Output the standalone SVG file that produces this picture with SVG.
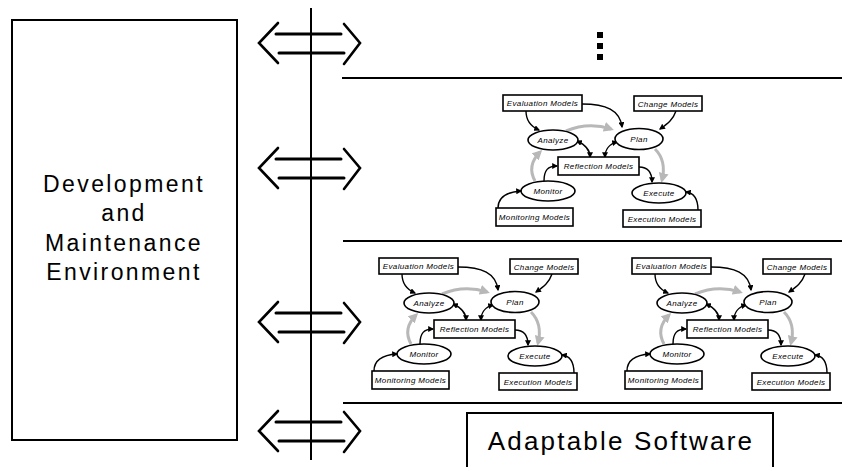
<svg xmlns="http://www.w3.org/2000/svg" xmlns:xlink="http://www.w3.org/1999/xlink" width="842" height="467" viewBox="0 0 842 467">
  <style>
    .frame { fill: #fff; stroke: #000; stroke-width: 2; }
    .sep { stroke: #000; stroke-width: 2; fill: none; }
    .box { fill: #fff; stroke: #000; stroke-width: 1.6; }
    .oval { fill: #fff; stroke: #000; stroke-width: 1.6; }
    .lbl { font-family: "Liberation Sans", "DejaVu Sans", sans-serif; font-style: italic; font-size: 8px; letter-spacing: 0.35px; text-anchor: middle; fill: #000; }
    .big { font-family: "Liberation Sans", "DejaVu Sans", sans-serif; font-size: 23px; letter-spacing: 2.4px; text-anchor: middle; fill: #000; }
    .flow { fill: none; stroke: #000; stroke-width: 1.4; marker-end: url(#headBlack); }
    .flow2 { fill: none; stroke: #000; stroke-width: 1.4; marker-start: url(#headBlack); marker-end: url(#headBlack); }
    .loop { fill: none; stroke: #b8b8b8; stroke-width: 3; marker-end: url(#headGray); }
    .dbl { fill: none; stroke: #000; stroke-linecap: round; }
  </style>
  <defs>
    <marker id="headBlack" viewBox="0 0 10 10" refX="8" refY="5" markerWidth="6" markerHeight="6" markerUnits="userSpaceOnUse" orient="auto-start-reverse">
      <path d="M0,0 L10,5 L0,10 Z" fill="#000"/>
    </marker>
    <marker id="headGray" viewBox="0 0 10 10" refX="7" refY="5" markerWidth="10" markerHeight="10" markerUnits="userSpaceOnUse" orient="auto">
      <path d="M0,0 L10,5 L0,10 Z" fill="#b8b8b8"/>
    </marker>
    <!-- double-headed link between the environment and a layer -->
    <g id="dblarrow" class="dbl">
      <path d="M278,-20 L259,0 L278,20" stroke-width="2.6"/>
      <path d="M344,-19 L360,0 L344,21" stroke-width="2.6"/>
      <path d="M276,-9 L341,-9" stroke-width="3"/>
      <path d="M279,10 L344,10" stroke-width="3"/>
    </g>
  </defs>

  <rect width="842" height="467" fill="#fff"/>

  <!-- environment block -->
  <g id="environment">
    <rect class="frame" x="12" y="20" width="225" height="420"/>
    <text class="big" x="124" y="192">Development</text>
    <text class="big" x="124" y="221">and</text>
    <text class="big" x="124" y="251">Maintenance</text>
    <text class="big" x="124" y="280">Environment</text>
  </g>

  <!-- layer separators -->
  <g id="layers">
    <path class="sep" d="M311,8 L311,460"/>
    <path class="sep" d="M342,78 L842,78"/>
    <path class="sep" d="M343,241 L842,241"/>
    <path class="sep" d="M343,403 L842,403"/>
  </g>

  <!-- links from the environment to each layer -->
  <g id="links">
    <use xlink:href="#dblarrow" transform="translate(0,43)"/>
    <use xlink:href="#dblarrow" transform="translate(0,168)"/>
    <use xlink:href="#dblarrow" transform="translate(0,322)"/>
    <use xlink:href="#dblarrow" transform="translate(0,431)"/>
  </g>

  <!-- more layers -->
  <g id="ellipsis" fill="#000">
    <rect x="597" y="32" width="6" height="6"/>
    <rect x="597" y="43" width="6" height="6"/>
    <rect x="597" y="54" width="6" height="6"/>
  </g>

  <!-- feedback loop, upper layer -->
  <g id="loop1">
    <g id="loop1-connectors">
      <path class="loop" d="M566,131 C580,125 596,124 611,129"/>
      <path class="loop" d="M535,181 C529,170 532,160 540,152"/>
      <path class="loop" d="M655,149 C664,158 665,168 662,180"/>
      <path class="flow" d="M526,111 C526,122 532,127 539,130"/>
      <path class="flow" d="M582,104 C606,104 620,110 622,127"/>
      <path class="flow" d="M676,111 C673,120 667,124 660,129"/>
      <path class="flow2" d="M577,141 C586,145 590,150 590,157"/>
      <path class="flow2" d="M617,142 C609,144 605,150 605,157"/>
      <path class="flow" d="M544,181 C544,170 548,166 557,166"/>
      <path class="flow" d="M639,167 C648,167 652,172 652,182"/>
      <path class="flow" d="M498,208 C498,198 505,192 521,191"/>
      <path class="flow" d="M698,210 C698,198 694,193 686,192"/>
    </g>
    <g id="loop1-eval"><rect class="box" x="503" y="95" width="79" height="16"/><text class="lbl" x="542.5" y="106">Evaluation Models</text></g>
    <g id="loop1-change"><rect class="box" x="634" y="96" width="68" height="15"/><text class="lbl" x="668" y="106.5">Change Models</text></g>
    <g id="loop1-analyze"><ellipse class="oval" cx="553" cy="140" rx="25" ry="10"/><text class="lbl" x="553" y="143">Analyze</text></g>
    <g id="loop1-plan"><ellipse class="oval" cx="639" cy="139" rx="24" ry="10.5"/><text class="lbl" x="639" y="142">Plan</text></g>
    <g id="loop1-reflection"><rect class="box" x="558" y="157" width="81" height="18"/><text class="lbl" x="598.5" y="169">Reflection Models</text></g>
    <g id="loop1-monitor"><ellipse class="oval" cx="548" cy="191" rx="27" ry="10"/><text class="lbl" x="548" y="194">Monitor</text></g>
    <g id="loop1-execute"><ellipse class="oval" cx="659" cy="193" rx="27" ry="10"/><text class="lbl" x="659" y="196">Execute</text></g>
    <g id="loop1-monmodels"><rect class="box" x="496" y="208" width="77" height="18"/><text class="lbl" x="534.5" y="220">Monitoring Models</text></g>
    <g id="loop1-execmodels"><rect class="box" x="623" y="210" width="78" height="17"/><text class="lbl" x="662" y="221.5">Execution Models</text></g>
  </g>

  <!-- feedback loop, middle layer left -->
  <g id="loop2" transform="translate(-124,163)">
    <g id="loop2-connectors">
      <path class="loop" d="M566,131 C580,125 596,124 611,129"/>
      <path class="loop" d="M535,181 C529,170 532,160 540,152"/>
      <path class="loop" d="M655,149 C664,158 665,168 662,180"/>
      <path class="flow" d="M526,111 C526,122 532,127 539,130"/>
      <path class="flow" d="M582,104 C606,104 620,110 622,127"/>
      <path class="flow" d="M676,111 C673,120 667,124 660,129"/>
      <path class="flow2" d="M577,141 C586,145 590,150 590,157"/>
      <path class="flow2" d="M617,142 C609,144 605,150 605,157"/>
      <path class="flow" d="M544,181 C544,170 548,166 557,166"/>
      <path class="flow" d="M639,167 C648,167 652,172 652,182"/>
      <path class="flow" d="M498,208 C498,198 505,192 521,191"/>
      <path class="flow" d="M698,210 C698,198 694,193 686,192"/>
    </g>
    <g id="loop2-eval"><rect class="box" x="503" y="95" width="79" height="16"/><text class="lbl" x="542.5" y="106">Evaluation Models</text></g>
    <g id="loop2-change"><rect class="box" x="634" y="96" width="68" height="15"/><text class="lbl" x="668" y="106.5">Change Models</text></g>
    <g id="loop2-analyze"><ellipse class="oval" cx="553" cy="140" rx="25" ry="10"/><text class="lbl" x="553" y="143">Analyze</text></g>
    <g id="loop2-plan"><ellipse class="oval" cx="639" cy="139" rx="24" ry="10.5"/><text class="lbl" x="639" y="142">Plan</text></g>
    <g id="loop2-reflection"><rect class="box" x="558" y="157" width="81" height="18"/><text class="lbl" x="598.5" y="169">Reflection Models</text></g>
    <g id="loop2-monitor"><ellipse class="oval" cx="548" cy="191" rx="27" ry="10"/><text class="lbl" x="548" y="194">Monitor</text></g>
    <g id="loop2-execute"><ellipse class="oval" cx="659" cy="193" rx="27" ry="10"/><text class="lbl" x="659" y="196">Execute</text></g>
    <g id="loop2-monmodels"><rect class="box" x="496" y="208" width="77" height="18"/><text class="lbl" x="534.5" y="220">Monitoring Models</text></g>
    <g id="loop2-execmodels"><rect class="box" x="623" y="210" width="78" height="17"/><text class="lbl" x="662" y="221.5">Execution Models</text></g>
  </g>

  <!-- feedback loop, middle layer right -->
  <g id="loop3" transform="translate(129,163)">
    <g id="loop3-connectors">
      <path class="loop" d="M566,131 C580,125 596,124 611,129"/>
      <path class="loop" d="M535,181 C529,170 532,160 540,152"/>
      <path class="loop" d="M655,149 C664,158 665,168 662,180"/>
      <path class="flow" d="M526,111 C526,122 532,127 539,130"/>
      <path class="flow" d="M582,104 C606,104 620,110 622,127"/>
      <path class="flow" d="M676,111 C673,120 667,124 660,129"/>
      <path class="flow2" d="M577,141 C586,145 590,150 590,157"/>
      <path class="flow2" d="M617,142 C609,144 605,150 605,157"/>
      <path class="flow" d="M544,181 C544,170 548,166 557,166"/>
      <path class="flow" d="M639,167 C648,167 652,172 652,182"/>
      <path class="flow" d="M498,208 C498,198 505,192 521,191"/>
      <path class="flow" d="M698,210 C698,198 694,193 686,192"/>
    </g>
    <g id="loop3-eval"><rect class="box" x="503" y="95" width="79" height="16"/><text class="lbl" x="542.5" y="106">Evaluation Models</text></g>
    <g id="loop3-change"><rect class="box" x="634" y="96" width="68" height="15"/><text class="lbl" x="668" y="106.5">Change Models</text></g>
    <g id="loop3-analyze"><ellipse class="oval" cx="553" cy="140" rx="25" ry="10"/><text class="lbl" x="553" y="143">Analyze</text></g>
    <g id="loop3-plan"><ellipse class="oval" cx="639" cy="139" rx="24" ry="10.5"/><text class="lbl" x="639" y="142">Plan</text></g>
    <g id="loop3-reflection"><rect class="box" x="558" y="157" width="81" height="18"/><text class="lbl" x="598.5" y="169">Reflection Models</text></g>
    <g id="loop3-monitor"><ellipse class="oval" cx="548" cy="191" rx="27" ry="10"/><text class="lbl" x="548" y="194">Monitor</text></g>
    <g id="loop3-execute"><ellipse class="oval" cx="659" cy="193" rx="27" ry="10"/><text class="lbl" x="659" y="196">Execute</text></g>
    <g id="loop3-monmodels"><rect class="box" x="496" y="208" width="77" height="18"/><text class="lbl" x="534.5" y="220">Monitoring Models</text></g>
    <g id="loop3-execmodels"><rect class="box" x="623" y="210" width="78" height="17"/><text class="lbl" x="662" y="221.5">Execution Models</text></g>
  </g>

  <!-- managed system -->
  <g id="adaptable-software">
    <rect class="frame" x="467" y="413" width="306" height="70"/>
    <text class="big" x="621" y="450" style="font-size:26px;letter-spacing:2.2px">Adaptable Software</text>
  </g>
</svg>
